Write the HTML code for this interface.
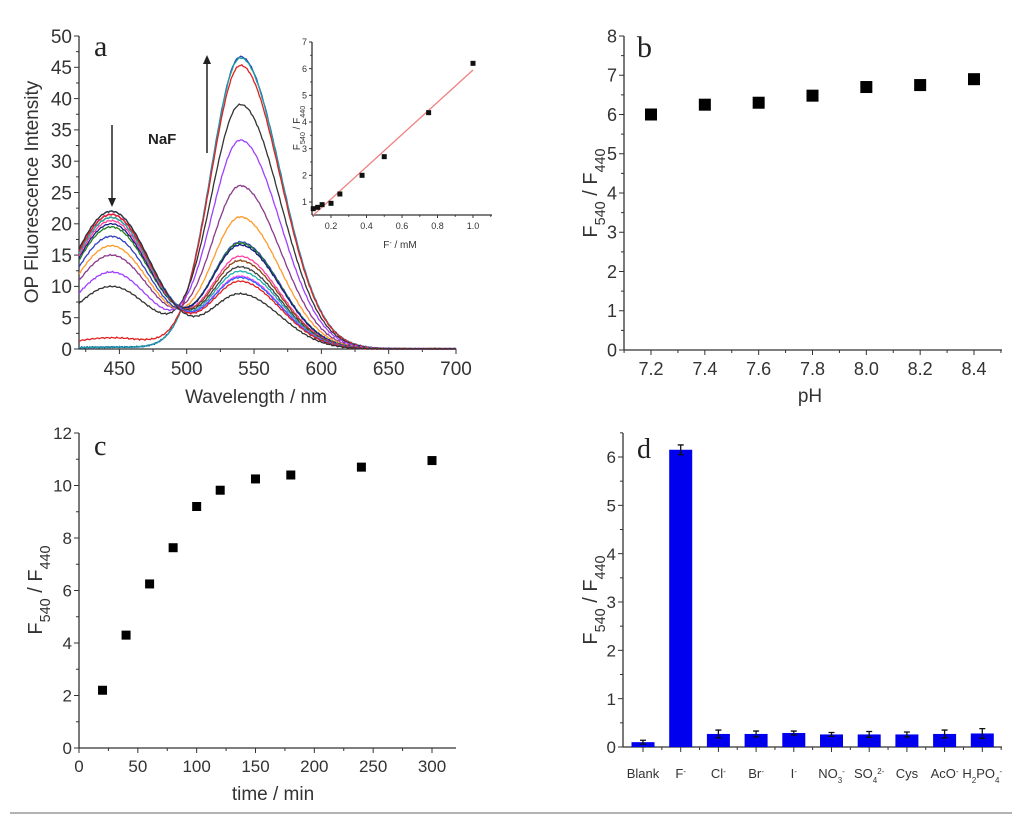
<!DOCTYPE html>
<html><head><meta charset="utf-8"><style>
body{margin:0;background:#fff;}
svg{display:block;font-family:"Liberation Sans",sans-serif;}
</style></head><body>
<svg id="fig" width="1024" height="825" viewBox="0 0 1024 825"></svg>
<script>
// Panel a spectra: peak intensities at 440 and 540 nm per curve
const specA440 = [0.3,0.3,1.8,10,12.3,15,16.5,18,19.5,20,20.5,21,21.5,21,21.5,22,21.5,22];
const specA540 = [46.7,46.5,45.3,39,33.3,26,21,17,16.8,16.5,14.7,14,13,12.3,11.5,11.3,10.7,8.7];
const specColors = ['#1f3fbf','#20a0a0','#e02020','#333333','#a040ff','#8b3a8b','#ff9a2a','#3040c0','#208020','#1a1a8a','#ff3fa0','#8b4513','#404040','#20b0b0','#ff40ff','#3060ff','#e02020','#333333'];
const aXTicks = [450,500,550,600,650,700];
const aYTicks = [0,5,10,15,20,25,30,35,40,45,50];
// Inset
const insetX = [0.1,0.125,0.15,0.2,0.25,0.375,0.5,0.75,1.0];
const insetY = [0.75,0.8,0.9,0.95,1.3,2.0,2.7,4.35,6.2];
const insetFit = [6.05,-0.1];
const insetXTicks = [0.2,0.4,0.6,0.8,1.0];
const insetYTicks = [1,2,3,4,5,6,7];
// Panel b
const phX = [7.2,7.4,7.6,7.8,8.0,8.2,8.4];
const phY = [6.0,6.25,6.3,6.48,6.7,6.75,6.9];
const bXTicks = [7.2,7.4,7.6,7.8,8.0,8.2,8.4];
const bYTicks = [0,1,2,3,4,5,6,7,8];
// Panel c
const timeX = [20,40,60,80,100,120,150,180,240,300];
const timeY = [2.2,4.3,6.25,7.63,9.2,9.82,10.25,10.4,10.7,10.95];
const cXTicks = [0,50,100,150,200,250,300];
const cYTicks = [0,2,4,6,8,10,12];
// Panel d
const ionLabels = ['Blank','F','Cl','Br','I','NO','SO','Cys','AcO','H'];
const ionValues = [0.1,6.15,0.27,0.27,0.29,0.26,0.26,0.26,0.27,0.28];
const ionErrors = [0.04,0.1,0.08,0.06,0.04,0.04,0.06,0.05,0.08,0.1];
const dYTicks = [0,1,2,3,4,5,6];

const NS='http://www.w3.org/2000/svg';
const svg=document.getElementById('fig');
function mk(tag,attrs,parent,text){const e=document.createElementNS(NS,tag);for(const k in attrs)e.setAttribute(k,attrs[k]);if(text!==undefined)e.textContent=text;(parent||svg).appendChild(e);return e;}
function lin(d0,d1,r0,r1){return v=>r0+(v-d0)*(r1-r0)/(d1-d0);}

function axes(g,x0,x1,y0,y1,xs,ys,xticks,yticks,xminor,yminor,fs,fmtX,fmtY,tl){
  let e=mk('line',{x1:x0,y1:y0,x2:x0,y2:y1,stroke:'#333','stroke-width':1.3},g);
  
  e=mk('line',{x1:x0,y1:y0,x2:x1,y2:y0,stroke:'#333','stroke-width':1.3},g);
  
  xticks.forEach(v=>{const x=xs(v);mk('line',{x1:x,y1:y0,x2:x,y2:y0+tl,stroke:'#333'},g);
    e=mk('text',{x:x,y:y0+tl+fs+2,'text-anchor':'middle','font-size':fs,fill:'#333'},g,fmtX(v));
    });
  xminor.forEach(v=>{const x=xs(v);mk('line',{x1:x,y1:y0,x2:x,y2:y0+tl*0.6,stroke:'#333'},g);});
  yticks.forEach(v=>{const y=ys(v);mk('line',{x1:x0,y1:y,x2:x0-tl,y2:y,stroke:'#333'},g);
    e=mk('text',{x:x0-tl-2,y:y+fs*0.36,'text-anchor':'end','font-size':fs,fill:'#333'},g,fmtY(v));
    });
  yminor.forEach(v=>{const y=ys(v);mk('line',{x1:x0,y1:y,x2:x0-tl*0.6,y2:y,stroke:'#333'},g);});
}
function ratioLabel(g,x,y,fs,name){
  const t=mk('text',{x:x,y:y,'font-size':fs,fill:'#333','text-anchor':'middle',transform:`rotate(-90 ${x} ${y})`},g);
  
  mk('tspan',{},t,'F');mk('tspan',{'baseline-shift':'sub','font-size':fs*0.72},t,'540');
  mk('tspan',{},t,' / F');mk('tspan',{'baseline-shift':'sub','font-size':fs*0.72},t,'440');
  return t;
}
function half(ticks){const r=[];for(let i=0;i<ticks.length-1;i++)r.push((ticks[i]+ticks[i+1])/2);return r;}

// ===== Panel a =====
const ga=mk('g',{});
const ax=lin(420,700,79,456), ay=lin(0,50,349,36);
axes(ga,79,456,349,36,ax,ay,aXTicks,aYTicks,[425,475,525,575,625,675],half(aYTicks),19,v=>v,v=>v,5);
function g2(l,c,sl,sr){const s=l<c?sl:sr;return Math.exp(-0.5*((l-c)/s)**2);}
specA440.forEach((a4,i)=>{
  const a5=specA540[i];let d='';
  for(let l=420;l<=700;l+=1){
    const n=0.3*Math.sin(l*1.7+i*3)+0.2*Math.sin(l*3.1+i);
    let v=a4*g2(l,444,30,30)+a5*g2(l,540,22,29.5)+n*0.25;
    if(v<0)v=0;
    d+=(d?'L':'M')+ax(l).toFixed(1)+','+ay(v).toFixed(1);
  }
  const p=mk('path',{d:d,fill:'none',stroke:specColors[i],'stroke-width':1.3},ga);
  
});
let e=mk('text',{x:94,y:56,'font-size':30,'font-family':'Liberation Serif,serif',fill:'#222'},ga,'a');

e=mk('text',{x:38,y:192,'font-size':19,fill:'#333','text-anchor':'middle',transform:'rotate(-90 38 192)'},ga,'OP Fluorescence Intensity');

e=mk('text',{x:256,y:403,'font-size':19,fill:'#333','text-anchor':'middle'},ga,'Wavelength / nm');

e=mk('text',{x:148,y:144,'font-size':15,'font-weight':'bold',fill:'#222'},ga,'NaF');

mk('line',{x1:112,y1:125,x2:112,y2:200,stroke:'#222','stroke-width':1.5},ga);
e=mk('path',{d:'M108,198 L116,198 L112,207 Z',fill:'#222'},ga);
mk('line',{x1:207,y1:153,x2:207,y2:62,stroke:'#222','stroke-width':1.5},ga);
e=mk('path',{d:'M203,64 L211,64 L207,55 Z',fill:'#222'},ga);

// Inset
const gi=mk('g',{});
const ix=lin(0.2,1.0,331,473), iy=lin(1,7,202,42);
axes(gi,312,492,215,42,ix,iy,insetXTicks,insetYTicks,[0.1,0.3,0.5,0.7,0.9,1.1].filter(v=>ix(v)<=492),[1.5,2.5,3.5,4.5,5.5,6.5],9,v=>v.toFixed(1),v=>v,3);
e=mk('line',{x1:ix(0.1),y1:iy(insetFit[0]*0.1+insetFit[1]),x2:ix(1.0),y2:iy(insetFit[0]*1.0+insetFit[1]),stroke:'#f08080','stroke-width':1.3},gi);

insetX.forEach((v,i)=>{const r=mk('rect',{x:ix(v)-2.5,y:iy(insetY[i])-2.5,width:5,height:5,fill:'#111'},gi);
  });
ratioLabel(gi,300,128,10,'inset-y-title');
e=mk('text',{x:400,y:248,'font-size':10,fill:'#333','text-anchor':'middle'},gi);

mk('tspan',{},e,'F');mk('tspan',{'baseline-shift':'super','font-size':7},e,'-');mk('tspan',{},e,' / mM');

// ===== Panel b =====
const gb=mk('g',{});
const bx=lin(7.2,8.4,651,974), by=lin(0,8,350,36);
axes(gb,624,1002,350,36,bx,by,bXTicks,bYTicks,[7.1,7.3,7.5,7.7,7.9,8.1,8.3,8.5],half(bYTicks),18,v=>v.toFixed(1),v=>v,5);
phX.forEach((v,i)=>{const r=mk('rect',{x:bx(v)-6,y:by(phY[i])-6,width:12,height:12,fill:'#000'},gb);
  });
e=mk('text',{x:637,y:57,'font-size':30,'font-family':'Liberation Serif,serif',fill:'#222'},gb,'b');

ratioLabel(gb,597,193,20,'y-axis-title-b');
e=mk('text',{x:810,y:402,'font-size':19,fill:'#333','text-anchor':'middle'},gb,'pH');


// ===== Panel c =====
const gc=mk('g',{});
const cx=lin(0,300,79,432), cy=lin(0,12,748,433);
axes(gc,79,456,748,433,cx,cy,cXTicks,cYTicks,[25,75,125,175,225,275],[1,3,5,7,9,11],17,v=>v,v=>v,5);
timeX.forEach((v,i)=>{const r=mk('rect',{x:cx(v)-4.5,y:cy(timeY[i])-4.5,width:9,height:9,fill:'#000'},gc);
  });
e=mk('text',{x:94,y:455,'font-size':28,'font-family':'Liberation Serif,serif',fill:'#222'},gc,'c');

ratioLabel(gc,42,590,20,'y-axis-title-c');
e=mk('text',{x:273,y:800,'font-size':19,fill:'#333','text-anchor':'middle'},gc,'time / min');


// ===== Panel d =====
const gd=mk('g',{});
const dy=lin(0,6,747,457);
const dx=i=>643+i*37.7;
axes(gd,623,1002,747,433,v=>dx(v),dy,[],dYTicks,[],[0.5,1.5,2.5,3.5,4.5,5.5,6.5],17,v=>v,v=>v,5);
for(let i=0;i<ionLabels.length;i++){mk('line',{x1:dx(i),y1:747,x2:dx(i),y2:752,stroke:'#333'},gd);
  mk('line',{x1:dx(i)+18.85,y1:747,x2:dx(i)+18.85,y2:750,stroke:'#333'},gd);}
ionValues.forEach((v,i)=>{
  const r=mk('rect',{x:dx(i)-11.5,y:dy(v),width:23,height:747-dy(v),fill:'#0000ee'},gd);
  
  const x=dx(i),yt=dy(v+ionErrors[i]),yb=dy(v-ionErrors[i]);
  const eb=mk('path',{d:`M${x},${yt}L${x},${yb}M${x-3},${yt}L${x+3},${yt}M${x-3},${yb}L${x+3},${yb}`,stroke:'#111','stroke-width':1.3,fill:'none'},gd);
  
});
const sups=['','-','-','-','-','-','2-','','-','-'];
const subs=['','','','','','3','4','','','2'];
ionLabels.forEach((l,i)=>{
  const t=mk('text',{x:dx(i),y:778,'font-size':13,fill:'#333','text-anchor':'middle'},gd);
  
  if(l==='H'){mk('tspan',{},t,'H');mk('tspan',{'baseline-shift':'sub','font-size':8},t,'2');mk('tspan',{},t,'PO');mk('tspan',{'baseline-shift':'sub','font-size':8},t,'4');mk('tspan',{'baseline-shift':'super','font-size':8},t,'-');}
  else{mk('tspan',{},t,l);if(subs[i])mk('tspan',{'baseline-shift':'sub','font-size':8},t,subs[i]);if(sups[i])mk('tspan',{'baseline-shift':'super','font-size':8},t,sups[i]);}
});
e=mk('text',{x:637,y:458,'font-size':28,'font-family':'Liberation Serif,serif',fill:'#222'},gd,'d');

ratioLabel(gd,597,600,20,'y-axis-title-d');

e=mk('line',{x1:10,y1:813,x2:1012,y2:813,stroke:'#999','stroke-width':1.5});

</script>
</body></html>
